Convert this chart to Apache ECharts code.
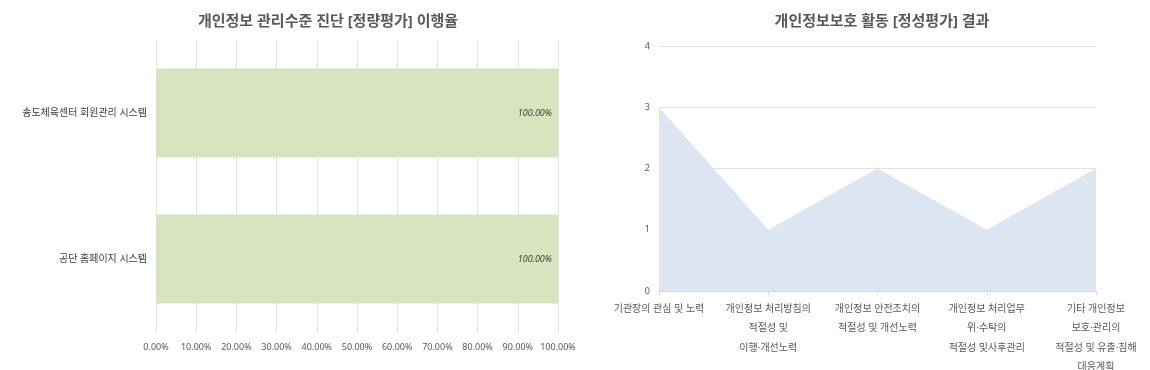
<!DOCTYPE html>
<html><head><meta charset="utf-8">
<script src="https://cdn.jsdelivr.net/npm/echarts@6/dist/echarts.min.js"></script>
<style>html,body{margin:0;padding:0;background:#fff}#c{width:1150px;height:370px}</style>
</head><body><div id="c"></div>
<script>
const barCategories = ['송도체육센터 회원관리 시스템', '공단 홈페이지 시스템'];
const barValues = [1.0, 1.0];
const areaCategories = [
  '기관장의 관심 및 노력',
  '개인정보 처리방침의\n적절성 및\n이행·개선노력',
  '개인정보 안전조치의\n적절성 및 개선노력',
  '개인정보 처리업무\n위·수탁의\n적절성 및사후관리',
  '기타 개인정보\n보호·관리의\n적절성 및 유출·침해\n대응계획'
];
const areaValues = [3, 1, 2, 1, 2];

const FONT = "'Noto Sans', 'Noto Sans CJK KR', sans-serif";
const chart = echarts.init(document.getElementById('c'), null, {renderer: 'canvas'});
chart.setOption({
  animation: false,
  textStyle: {fontFamily: FONT},
  title: [
    {text: '개인정보 관리수준 진단 [정량평가] 이행율', left: 323, top: 9, textAlign: 'center',
     textStyle: {fontSize: 15, fontWeight: 'bold', color: '#595959', fontFamily: FONT}},
    {text: '개인정보보호 활동 [정성평가] 결과', left: 877, top: 9, textAlign: 'center',
     textStyle: {fontSize: 15, fontWeight: 'bold', color: '#595959', fontFamily: FONT}}
  ],
  grid: [
    {left: 156, width: 402, top: 40, height: 292, outerBoundsMode: 'none', containLabel: false},
    {left: 659, width: 437, top: 46, height: 245, outerBoundsMode: 'none', containLabel: false}
  ],
  xAxis: [
    {type: 'value', gridIndex: 0, min: 0, max: 1, interval: 0.1,
     axisLine: {show: false}, axisTick: {show: false},
     splitLine: {show: true, lineStyle: {color: '#e3e3e3', width: 1}},
     axisLabel: {formatter: v => (v * 100).toFixed(2) + '%', fontSize: 9, color: '#595959', margin: 11}},
    {type: 'category', gridIndex: 1, data: areaCategories, boundaryGap: false,
     axisLine: {show: true, lineStyle: {color: '#d9d9d9'}},
     axisTick: {show: true, length: 4, lineStyle: {color: '#d9d9d9'}},
     splitLine: {show: false},
     axisLabel: {interval: 0, fontSize: 10, color: '#595959', lineHeight: 19.5, margin: 8, align: 'center', hideOverlap: false}}
  ],
  yAxis: [
    {type: 'category', gridIndex: 0, data: barCategories, inverse: true,
     axisLine: {show: false}, axisTick: {show: false},
     axisLabel: {fontSize: 10, color: '#404040', margin: 9}},
    {type: 'value', gridIndex: 1, min: 0, max: 4, interval: 1,
     axisLine: {show: false}, axisTick: {show: false},
     splitLine: {show: true, lineStyle: {color: '#e3e3e3', width: 1}},
     axisLabel: {fontSize: 9, color: '#595959', margin: 9}}
  ],
  series: [
    {type: 'bar', xAxisIndex: 0, yAxisIndex: 0, data: barValues, barWidth: 89,
     itemStyle: {color: '#d7e4bd'},
     label: {show: true, position: 'insideRight', distance: 6,
             formatter: p => (p.value * 100).toFixed(2) + '%',
             fontSize: 9, fontStyle: 'italic', color: '#404040'}},
    {type: 'line', xAxisIndex: 1, yAxisIndex: 1, data: areaValues,
     symbol: 'none', lineStyle: {width: 0, color: '#dce6f2'},
     areaStyle: {color: '#dce6f2', opacity: 1}}
  ]
});
</script></body></html>
